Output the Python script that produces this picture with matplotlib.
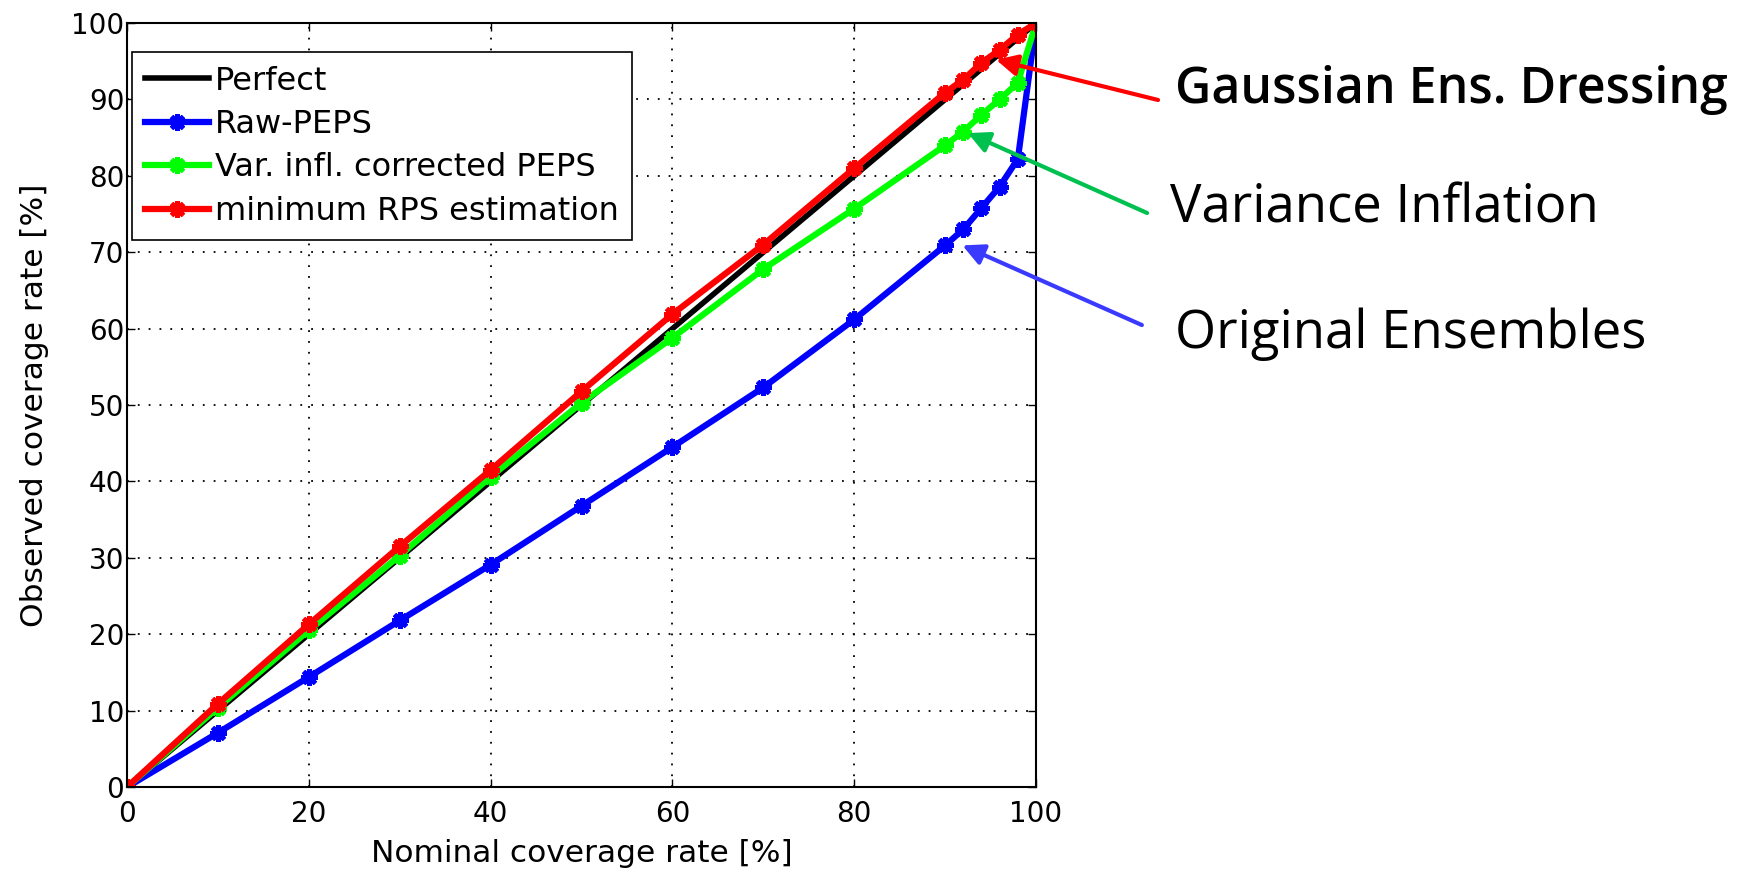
import numpy as np
import matplotlib
matplotlib.use("Agg")
import matplotlib.pyplot as plt

# nominal coverage levels (%)
nominal = [0, 10, 20, 30, 40, 50, 60, 70, 80, 90, 92, 94, 96, 98, 100]

# observed coverage (%)
perfect = [0, 10, 20, 30, 40, 50, 60, 70, 80, 90, 92, 94, 96, 98, 100]
raw_peps = [0, 7.1, 14.4, 21.8, 29.1, 36.8, 44.5, 52.3, 61.2, 70.9, 73.0, 75.8, 78.6, 82.2, 100]
var_infl = [0, 10.4, 20.5, 30.3, 40.6, 50.3, 58.8, 67.8, 75.7, 84.0, 85.8, 88.0, 90.0, 92.2, 100]
min_rps = [0, 10.9, 21.3, 31.5, 41.5, 51.8, 61.9, 71.0, 81.0, 90.9, 92.6, 94.8, 96.5, 98.5, 100]

labels = ["Perfect", "Raw-PEPS", "Var. infl. corrected PEPS", "minimum RPS estimation"]
ticks = [0, 20, 40, 60, 80, 100]
yticks = [0, 10, 20, 30, 40, 50, 60, 70, 80, 90, 100]

plt.rcParams["font.family"] = ["DejaVu Sans"]

fig = plt.figure(figsize=(17.38, 8.74), dpi=100)
ax = fig.add_axes([0.0731, 0.0995, 0.5230, 0.8741])

mk = dict(marker=(8, 2, 0), markersize=12, markeredgewidth=3.5)
ax.plot(nominal, perfect, color="black", lw=4, label=labels[0])
ax.plot(nominal, raw_peps, color="#0000FF", lw=4.5, mec="#0000FF", label=labels[1], **mk)
ax.plot(nominal, var_infl, color="#00FF00", lw=4.5, mec="#00FF00", label=labels[2], **mk)
ax.plot(nominal, min_rps, color="#FF0000", lw=4.5, mec="#FF0000", label=labels[3], **mk)

ax.set_xlim(0, 100)
ax.set_ylim(0, 100)
ax.set_xticks(ticks)
ax.set_yticks(yticks)
ax.grid(True, color="black", linestyle=(0, (1, 5)), lw=1.3)
ax.tick_params(direction="in", top=True, right=True, length=6, width=1,
               labelsize=20)
ax.tick_params(axis="x", pad=9)
ax.tick_params(axis="y", pad=2)
for s in ax.spines.values():
    s.set_linewidth(1.5)

ax.set_xlabel("Nominal coverage rate [%]", fontsize=22.5, labelpad=8)
ax.set_ylabel("Observed coverage rate [%]", fontsize=22.5, labelpad=16)

leg = ax.legend(loc="upper left", bbox_to_anchor=(0.0055, 0.962), borderaxespad=0,
                fontsize=23, fancybox=False, framealpha=1, edgecolor="black",
                handlelength=2.0, handletextpad=0.18, labelspacing=0.39,
                borderpad=0.42, numpoints=1)
leg.get_frame().set_linewidth(1.2)

# annotations on the right
notes = ["Gaussian Ens. Dressing", "Variance Inflation", "Original Ensembles"]
note_colors = ["#FF0000", "#00C050", "#3A3AFF"]
tips = [(95.6, 95.2), (92.5, 85.6), (91.9, 70.9)]
tails = [(0.6663, 0.8856), (0.6600, 0.7563), (0.6570, 0.6281)]
text_pos = [(0.676, 0.897), (0.673, 0.761), (0.676, 0.618)]
weights = ["semibold", "normal", "normal"]
sizes = [36, 38, 38]

for n, c, tip, tail, tp, w, sz in zip(notes, note_colors, tips, tails, text_pos, weights, sizes):
    ax.annotate("", xy=tip, xycoords="data", xytext=tail, textcoords="figure fraction",
                arrowprops=dict(arrowstyle="-|>", color=c, lw=3, mutation_scale=32,
                                shrinkA=0, shrinkB=0),
                annotation_clip=False)
    fig.text(tp[0], tp[1], n, fontsize=sz, family=["Open Sans", "DejaVu Sans"],
             fontweight=w, ha="left", va="center")

fig.savefig("out.png", dpi=100)
